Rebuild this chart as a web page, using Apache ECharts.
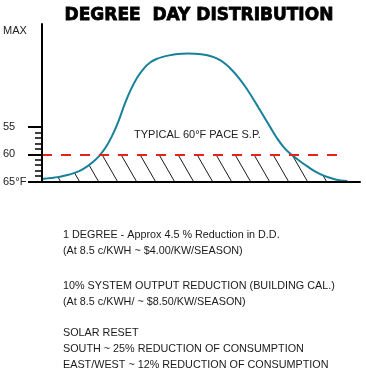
<!DOCTYPE html>
<html>
<head>
<meta charset="utf-8">
<script src="https://cdn.jsdelivr.net/npm/echarts@6/dist/echarts.min.js"></script>
<style>
html,body{margin:0;padding:0;background:#fff;}
#chart{width:366px;height:375px;}
</style>
</head>
<body>
<div id="chart"></div>
<script>
// ---- data ----
const titleText = 'DEGREE  DAY DISTRIBUTION';
// x position along the season (0..100), y = degrees below 65°F
const xVals = [0, 2, 4, 6, 8, 10, 12, 14, 16, 18, 20, 22, 24, 26, 28, 30, 32, 34, 36, 38, 40, 42, 44, 46, 48,
               50, 52, 54, 56, 58, 60, 62, 64, 66, 68, 70, 72, 74, 76, 78, 80, 82, 84, 86, 88, 90, 92, 94, 96];
const curveVals = [0.46, 0.59, 0.74, 0.92, 1.19, 1.54, 2.02, 2.70, 3.58, 4.72, 6.25, 8.36, 11.03, 14.25, 17.0, 19.2, 20.8, 21.9, 22.55, 22.95, 23.22, 23.42, 23.53, 23.57, 23.54,
                   23.44, 23.24, 22.9, 22.35, 21.5, 20.35, 19.0, 17.4, 15.6, 13.69, 11.75, 9.78, 7.90, 6.34, 5.15, 4.23, 3.35, 2.57, 1.80, 1.23, 0.77, 0.42, 0.20, 0.09];
const setpointValue = 5;          // 60°F = 5 degrees below 65°F
const setpointEnd = 92.8;         // end of dashed line (x)
const yMax = 29;
const labelValues = [0, 5, 10, 27.7];
const labelTexts = ['65°F', '60', '55', 'MAX'];
const majorTicks = [0, 5, 10];
const minorTicks = [1, 2, 3, 4, 6, 7, 8, 9];
const annotation = 'TYPICAL 60°F PACE S.P.';
const noteBlock1 = ['1 DEGREE - Approx 4.5 % Reduction in D.D.', '(At 8.5 c/KWH ~ $4.00/KW/SEASON)'];
const noteBlock2 = ['10% SYSTEM OUTPUT REDUCTION (BUILDING CAL.)', '(At 8.5 c/KWH/ ~ $8.50/KW/SEASON)'];
const noteBlock3 = ['SOLAR RESET', 'SOUTH ~ 25% REDUCTION OF CONSUMPTION', 'EAST/WEST ~ 12% REDUCTION OF CONSUMPTION'];

const curveData = xVals.map((x, i) => [x, curveVals[i]]);

function makeHatch() {
  const c = document.createElement('canvas');
  c.width = 19; c.height = 33;
  const g = c.getContext('2d');
  g.strokeStyle = '#1a1a1a';
  g.lineWidth = 1;
  for (let k = -2; k <= 1; k++) {
    const x0 = 13 + k * 19;
    g.beginPath();
    g.moveTo(x0, 0);
    g.lineTo(x0 + 19, 33);
    g.stroke();
  }
  return c;
}

const FONT = 'Liberation Sans, Arial, sans-serif';
const chart = echarts.init(document.getElementById('chart'), null, {renderer: 'canvas'});

const noteStyle = (lines) => ({
  text: lines.join('\n'),
  fontFamily: FONT,
  fontSize: 10.8,
  lineHeight: 16.3,
  fill: '#1a1a1a',
  verticalAlign: 'top',
  align: 'left'
});

chart.setOption({
  animation: false,
  backgroundColor: '#fff',
  title: {
    text: titleText,
    left: 194,
    top: 2,
    textAlign: 'center',
    textStyle: {
      fontFamily: 'DejaVu Sans', fontWeight: 'bold', fontSize: 17, color: '#000',
      textBorderColor: '#000', textBorderWidth: 0.8
    }
  },
  grid: {left: 42, right: 6, top: 24, bottom: 193.5, containLabel: false},
  xAxis: {
    type: 'value', min: 0, max: 100, z: 10,
    axisLine: {show: true, onZero: false, lineStyle: {color: '#000', width: 2}},
    axisTick: {show: false}, axisLabel: {show: false}, splitLine: {show: false}
  },
  yAxis: [{
    type: 'value', min: 0, max: yMax, position: 'left', z: 10,
    axisLine: {show: true, onZero: false, lineStyle: {color: '#000', width: 2}},
    axisTick: {show: true, length: 14, customValues: majorTicks, lineStyle: {color: '#000', width: 2}},
    axisLabel: {
      customValues: labelValues,
      formatter: (v) => { const i = labelValues.indexOf(v); return i >= 0 ? labelTexts[i] : ''; },
      align: 'left', margin: 39, fontSize: 11, fontFamily: FONT, color: '#222'
    },
    splitLine: {show: false}
  }, {
    type: 'value', min: 0, max: yMax, position: 'left', z: 10,
    axisLine: {show: false},
    axisTick: {show: true, length: 7, customValues: minorTicks, lineStyle: {color: '#000', width: 1.5}},
    axisLabel: {show: false},
    splitLine: {show: false}
  }],
  graphic: [
    {type: 'text', x: 134, y: 129, z: 100, style: {text: annotation, fontFamily: FONT, fontSize: 11, fill: '#222', verticalAlign: 'top'}},
    {type: 'text', x: 63, y: 226.8, z: 100, style: noteStyle(noteBlock1)},
    {type: 'text', x: 63, y: 277.8, z: 100, style: noteStyle(noteBlock2)},
    {type: 'text', x: 63, y: 324.5, z: 100, style: noteStyle(noteBlock3)}
  ],
  series: [
    {
      name: 'hatch', type: 'line', data: curveData, smooth: 0.3, showSymbol: false, z: 1,
      lineStyle: {width: 0, opacity: 0},
      areaStyle: {color: {image: makeHatch(), repeat: 'repeat'}, opacity: 1},
      silent: true
    },
    {
      name: 'mask', type: 'line', data: [[0, yMax], [100, yMax]], showSymbol: false, z: 2,
      lineStyle: {width: 0, opacity: 0},
      areaStyle: {color: '#fff', opacity: 1, origin: setpointValue},
      silent: true
    },
    {
      name: 'curve', type: 'line', data: curveData, smooth: 0.3, showSymbol: false, z: 3,
      lineStyle: {color: '#17819a', width: 2},
      markLine: {
        silent: true, symbol: ['none', 'none'], label: {show: false},
        lineStyle: {color: '#e5231b', width: 2, type: [10, 9]},
        data: [[{coord: [0, setpointValue]}, {coord: [setpointEnd, setpointValue]}]]
      }
    }
  ]
});
</script>
</body>
</html>
